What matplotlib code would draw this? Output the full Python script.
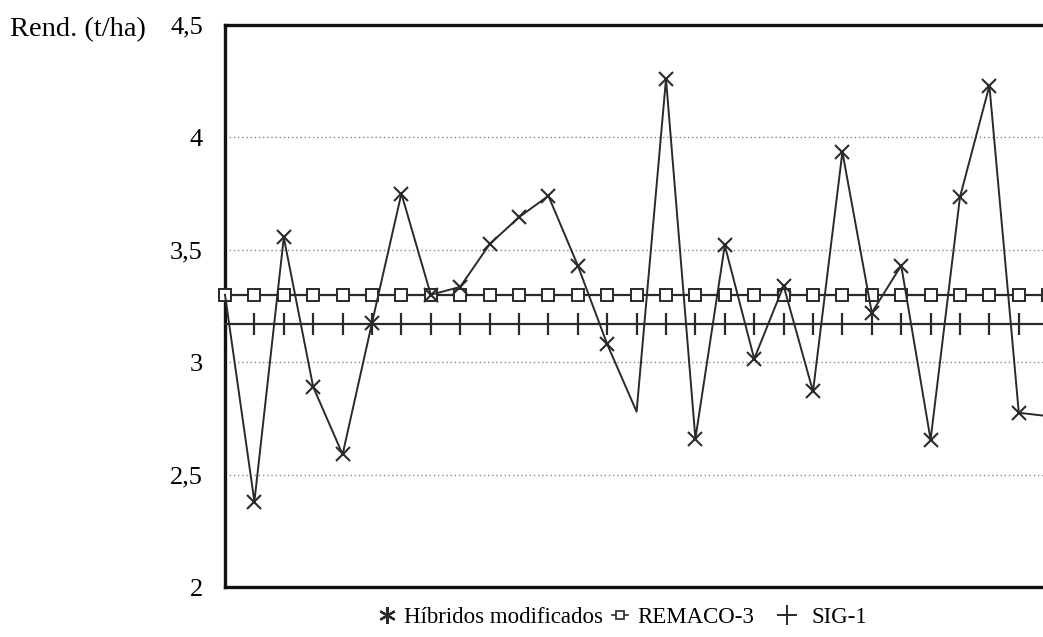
import matplotlib
matplotlib.use("Agg")
import matplotlib.pyplot as plt
from matplotlib.lines import Line2D

# ---- data ----
hibridos = [3.30, 2.38, 3.555, 2.89, 2.59, 3.175, 3.75, 3.30, 3.335, 3.525,
            3.645, 3.74, 3.43, 3.08, 2.78, 4.26, 2.66, 3.52, 3.015, 3.34,
            2.87, 3.935, 3.22, 3.43, 2.655, 3.735, 4.23, 2.775, 2.76]
remaco = [3.30] * 29
sig1 = [3.17] * 29
x = list(range(len(hibridos)))
yticks = [2, 2.5, 3, 3.5, 4, 4.5]
yticklabels = ["2", "2,5", "3", "3,5", "4", "4,5"]
legend_labels = ["Híbridos modificados", "REMACO-3", "SIG-1"]
ylabel = "Rend. (t/ha)"

W, H = 1043, 637
fig = plt.figure(figsize=(W / 100, H / 100), dpi=100)
serif = "Liberation Serif"
ax = fig.add_axes([225 / W, 1 - 587 / H, 1 - 225 / W, (587 - 25) / H])

line_col = "#2a2a2a"
ax.plot(x, remaco, color=line_col, lw=1.6, marker="s", ms=8, mfc="white",
        mec=line_col, mew=1.4, clip_on=False, zorder=3)
ax.plot(x, sig1, color=line_col, lw=1.6, marker="|", ms=16, mew=1.6,
        markevery=list(range(1, 28)), clip_on=False, zorder=3)
marks = [i for i in x if i not in (0, 14, 28)]
ax.plot(x, hibridos, color=line_col, lw=1.4, marker="x", ms=10, mew=1.5,
        markevery=marks, clip_on=False, zorder=4)

ax.set_xlim(0, (W - 225) / 29.4)
ax.set_ylim(2, 4.5)
ax.set_yticks(yticks)
ax.set_yticklabels(yticklabels, fontfamily=serif, fontsize=19)
ax.set_xticks([])
ax.tick_params(axis="y", length=0, pad=16)
for yv in yticks[1:-1]:
    ax.axhline(yv, color="#888888", lw=1.0, ls=(0, (1, 2)), zorder=1)

for s in ["left", "top", "bottom"]:
    ax.spines[s].set_linewidth(2.4)
    ax.spines[s].set_color("#111111")
ax.spines["right"].set_visible(False)

fig.text(10 / W, 1 - 30 / H, ylabel, fontfamily=serif, fontsize=20.5,
         va="center", ha="left")

# legend (three separately placed entries)
handles = [
    Line2D([], [], ls="none", marker=(6, 2, 0), ms=12, mew=1.6, color=line_col),
    Line2D([], [], color=line_col, lw=1.2, marker="s", ms=6, mfc="white",
           mec=line_col, mew=1.2),
    Line2D([], [], ls="none", marker="+", ms=15, mew=1.4, color=line_col),
]
anchors = [376, 612, 776]
pads = [0.2, 0.4, 0.55]
hlens = [1.0, 0.7, 1.0]
for h, lab, ax0, pd, hl in zip(handles, legend_labels, anchors, pads, hlens):
    fig.legend([h], [lab], loc="center left",
               bbox_to_anchor=(ax0 / W, 1 - 617 / H), frameon=False,
               prop={"family": serif, "size": 16.5}, handlelength=hl,
               handletextpad=pd, borderpad=0, borderaxespad=0)

fig.savefig("out.png", dpi=100)
